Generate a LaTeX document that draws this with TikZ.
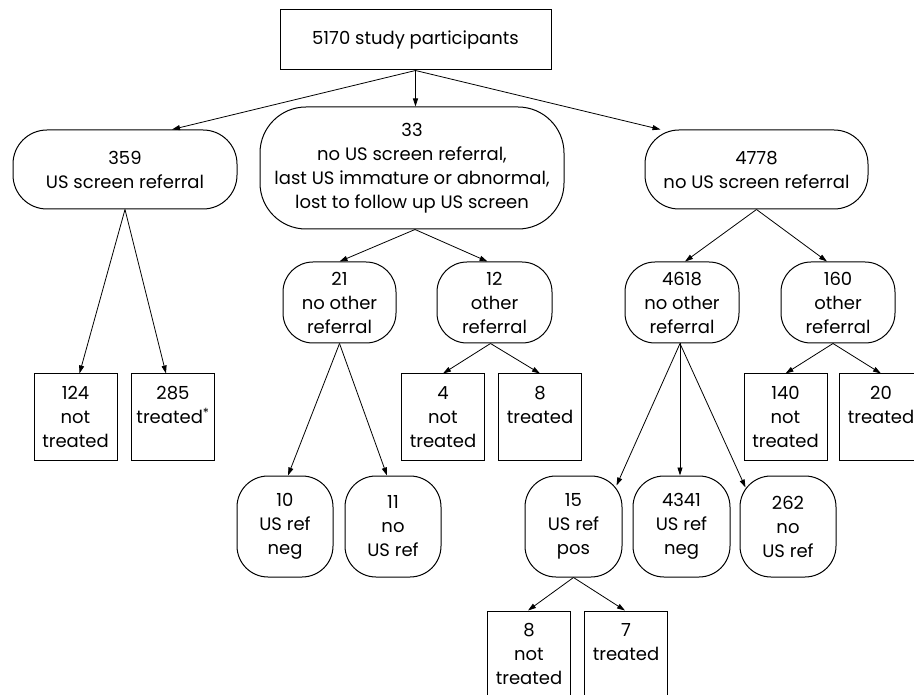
\documentclass[tikz,border=0pt]{standalone}
\usepackage{fontspec}
\setmainfont{Poppins}
\usetikzlibrary{arrows.meta}
\tikzset{
    box/.style={draw, line width=1pt, align=center, inner sep=0pt,
        font=\fontsize{18}{24}\selectfont},
    smallbox/.style={box, minimum width=83pt, minimum height=86pt},
    widepill/.style={box, rounded corners=34pt, minimum width=224pt, minimum height=79pt},
    midpill/.style={box, rounded corners=30pt, minimum width=114pt, minimum height=81pt},
    tallpill/.style={box, rounded corners=31pt, minimum width=96pt, minimum height=101pt},
    link/.style={-{Triangle[length=8pt,width=5pt]}, line width=0.8pt}
}
\begin{document}
\begin{tikzpicture}[x=1pt, y=-1pt]
    \useasboundingbox (0,0) rectangle (914,695);
    \clip (0,0) rectangle (914,695);

    % Top of the tree
    \node[box, minimum width=271pt, minimum height=60pt] (all) at (415.5,40) {5170 study participants};

    % First split: US screen outcome
    \node[widepill] (ref) at (125,169.5) {359\\US screen referral};
    \node[box, rounded corners=46pt, minimum width=304pt, minimum height=122pt] (lost) at (412,168)
        {33\\no US screen referral,\\last US immature or abnormal,\\lost to follow up US screen};
    \node[widepill, minimum width=223pt] (noref) at (756.5,169.5) {4778\\no US screen referral};

    % Second split: other referral
    \node[midpill, minimum width=113pt] (lostno) at (339.5,302.5) {21\\no other\\referral};
    \node[midpill, minimum width=115pt] (lostother) at (494.5,302.5) {12\\other\\referral};
    \node[midpill] (norefno) at (682,302.5) {4618\\no other\\referral};
    \node[midpill] (norefother) at (838,302.5) {160\\other\\referral};

    % Treatment boxes
    \node[smallbox] (refnot) at (75.5,417) {124\\not\\treated};
    \node[smallbox] (reftreat) at (173,417) {285\\treated\textsuperscript{*}\\\phantom{x}};
    \node[smallbox] (othernot) at (443,417) {4\\not\\treated};
    \node[smallbox] (othertreat) at (540,417) {8\\treated\\\phantom{x}};
    \node[smallbox] (bignot) at (785.5,417) {140\\not\\treated};
    \node[smallbox] (bigtreat) at (881,417) {20\\treated\\\phantom{x}};

    % US refraction outcome
    \node[tallpill] (lostneg) at (285,526.5) {10\\US ref\\neg};
    \node[tallpill] (lostnoref) at (393,526.5) {11\\no\\US ref};
    \node[tallpill, minimum width=97pt] (pos) at (573.5,526.5) {15\\US ref\\pos};
    \node[tallpill, minimum width=97pt] (neg) at (681.5,526.5) {4341\\US ref\\neg};
    \node[tallpill] (nousref) at (788,526.5) {262\\no\\US ref};

    % Last row, cut by the page edge
    \node[smallbox] (posnot) at (529,654) {8\\not\\treated};
    \node[smallbox] (postreat) at (626,654) {7\\treated\\\phantom{x}};

    % Connectors
    \draw[link] (all.south) -- ([xshift=47pt]ref.north);
    \draw[link] (all.south) -- (all.south |- lost.north);
    \draw[link] (all.south) -- ([xshift=-96pt]noref.north);
    \draw[link] (ref.south) -- ([xshift=4pt]refnot.north);
    \draw[link] (ref.south) -- ([xshift=-7pt]reftreat.north);
    \draw[link] ([xshift=3pt]lost.south) -- (lostno.north);
    \draw[link] ([xshift=3pt]lost.south) -- ([xshift=-7pt]lostother.north);
    \draw[link] (noref.south) -- ([xshift=3pt]norefno.north);
    \draw[link] (noref.south) -- ([xshift=-11pt]norefother.north);
    \draw[link] ([xshift=-4pt]lostother.south) -- (othernot.north);
    \draw[link] ([xshift=-4pt]lostother.south) -- (othertreat.north);
    \draw[link] ([xshift=-5pt]norefother.south) -- (bignot.north);
    \draw[link] ([xshift=-5pt]norefother.south) -- (bigtreat.north);
    \draw[link] (lostno.south) -- ([xshift=3pt]lostneg.north);
    \draw[link] (lostno.south) -- ([xshift=-6pt]lostnoref.north);
    \draw[link] ([xshift=-2pt]norefno.south) -- ([shift={(-6pt,-10pt)}]pos.north east);
    \draw[link] ([xshift=-2pt]norefno.south) -- ([xshift=-2pt]norefno.south |- neg.north);
    \draw[link] ([xshift=-2pt]norefno.south) -- ([shift={(6pt,-12pt)}]nousref.north west);
    \draw[link] (pos.south) -- ([xshift=-1pt]posnot.north);
    \draw[link] (pos.south) -- ([xshift=-1pt]postreat.north);
\end{tikzpicture}
\end{document}
